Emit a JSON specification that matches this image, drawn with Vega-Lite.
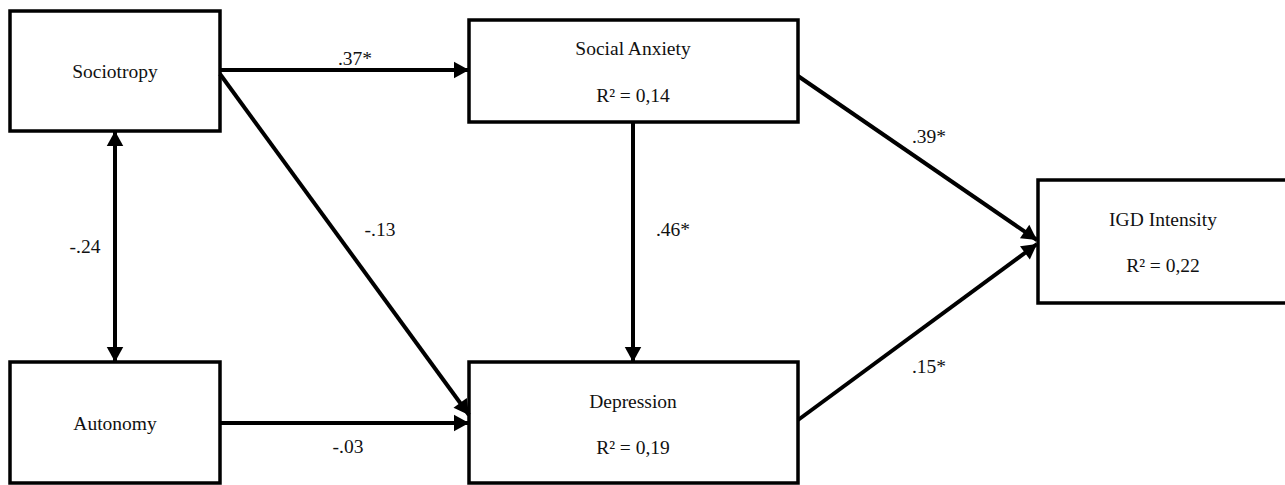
{
  "$schema": "https://vega.github.io/schema/vega-lite/v6.json",
  "width": 1285,
  "height": 485,
  "padding": 0,
  "autosize": {"type": "none"},
  "background": "white",
  "config": {"view": {"stroke": null}, "font": "Times New Roman"},
  "datasets": {
    "nodes": [
      {"node": "Sociotropy", "x1": 10, "x2": 220, "y1": 11, "y2": 131},
      {"node": "Autonomy", "x1": 10, "x2": 220, "y1": 362, "y2": 483},
      {"node": "Social Anxiety", "x1": 469, "x2": 798, "y1": 20, "y2": 122},
      {"node": "Depression", "x1": 469, "x2": 798, "y1": 362, "y2": 483},
      {"node": "IGD Intensity", "x1": 1038, "x2": 1292, "y1": 180, "y2": 303}
    ],
    "edges": [
      {"path": "Sociotropy-Social Anxiety", "x1": 220, "y1": 70, "x2": 469, "y2": 70},
      {"path": "Sociotropy-Depression", "x1": 220, "y1": 74, "x2": 469, "y2": 415},
      {"path": "Sociotropy-Autonomy", "x1": 115, "y1": 131, "x2": 115, "y2": 362},
      {"path": "Autonomy-Depression", "x1": 220, "y1": 423, "x2": 469, "y2": 423},
      {"path": "Social Anxiety-Depression", "x1": 633, "y1": 122, "x2": 633, "y2": 362},
      {"path": "Social Anxiety-IGD", "x1": 798, "y1": 76, "x2": 1037, "y2": 240},
      {"path": "Depression-IGD", "x1": 798, "y1": 420, "x2": 1037, "y2": 244}
    ],
    "heads": [
      {"path": "Sociotropy-Social Anxiety", "x": 469, "y": 70, "dx": 1, "dy": 0},
      {"path": "Sociotropy-Depression", "x": 469, "y": 415, "dx": 249, "dy": 341},
      {"path": "Sociotropy-Autonomy", "x": 115, "y": 362, "dx": 0, "dy": 1},
      {"path": "Sociotropy-Autonomy", "x": 115, "y": 131, "dx": 0, "dy": -1},
      {"path": "Autonomy-Depression", "x": 469, "y": 423, "dx": 1, "dy": 0},
      {"path": "Social Anxiety-Depression", "x": 633, "y": 362, "dx": 0, "dy": 1},
      {"path": "Social Anxiety-IGD", "x": 1037, "y": 240, "dx": 239, "dy": 164},
      {"path": "Depression-IGD", "x": 1037, "y": 244, "dx": 239, "dy": -176}
    ],
    "labels": [
      {"text": "Sociotropy", "x": 115, "y": 72},
      {"text": "Autonomy", "x": 115, "y": 424},
      {"text": "Social Anxiety", "x": 633, "y": 49},
      {"text": "R² = 0,14", "x": 633, "y": 96},
      {"text": "Depression", "x": 633, "y": 402},
      {"text": "R² = 0,19", "x": 633, "y": 448},
      {"text": "IGD Intensity", "x": 1163, "y": 220},
      {"text": "R² = 0,22", "x": 1163, "y": 266},
      {"text": ".37*", "x": 355, "y": 59},
      {"text": "-.13", "x": 380, "y": 230},
      {"text": "-.24", "x": 85, "y": 247},
      {"text": "-.03", "x": 348, "y": 447},
      {"text": ".46*", "x": 673, "y": 230},
      {"text": ".39*", "x": 929, "y": 137},
      {"text": ".15*", "x": 929, "y": 367}
    ]
  },
  "layer": [
    {
      "data": {"name": "nodes"},
      "mark": {"type": "rect", "fill": "white", "stroke": "black", "strokeWidth": 3.5},
      "encoding": {
        "x": {"field": "x1", "type": "quantitative", "scale": {"domain": [0, 1285], "nice": false, "zero": false}, "axis": null},
        "x2": {"field": "x2"},
        "y": {"field": "y1", "type": "quantitative", "scale": {"domain": [0, 485], "nice": false, "zero": false, "reverse": true}, "axis": null},
        "y2": {"field": "y2"}
      }
    },
    {
      "data": {"name": "edges"},
      "mark": {"type": "rule", "color": "black", "strokeWidth": 4},
      "encoding": {
        "x": {"field": "x1", "type": "quantitative"},
        "x2": {"field": "x2"},
        "y": {"field": "y1", "type": "quantitative"},
        "y2": {"field": "y2"}
      }
    },
    {
      "data": {"name": "heads"},
      "transform": [
        {"calculate": "atan2(datum.dx, -datum.dy) * 180 / PI", "as": "angle"}
      ],
      "mark": {"type": "point", "shape": "M0,0L-0.55,1L0.55,1Z", "filled": true, "fill": "black", "opacity": 1, "strokeWidth": 0, "size": 900},
      "encoding": {
        "x": {"field": "x", "type": "quantitative"},
        "y": {"field": "y", "type": "quantitative"},
        "angle": {"field": "angle", "type": "quantitative", "scale": null}
      }
    },
    {
      "data": {"name": "labels"},
      "mark": {"type": "text", "font": "Times New Roman", "fontSize": 19.5, "color": "#111", "align": "center", "baseline": "middle"},
      "encoding": {
        "x": {"field": "x", "type": "quantitative"},
        "y": {"field": "y", "type": "quantitative"},
        "text": {"field": "text"}
      }
    }
  ]
}
